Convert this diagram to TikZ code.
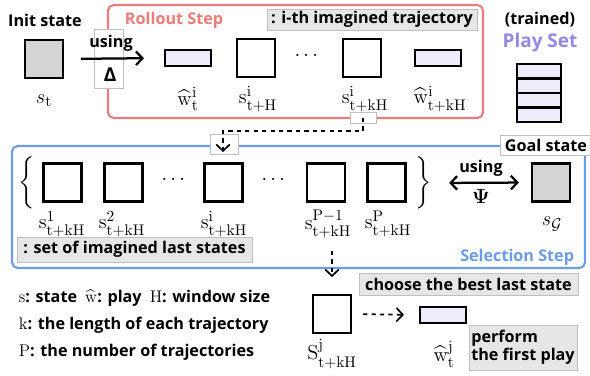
\documentclass[tikz,border=0pt]{standalone}
\usepackage[no-math]{fontspec}
\setmainfont{Open Sans}
\usepackage{amsmath,amssymb,bm}
\usetikzlibrary{arrows.meta,positioning,calc}
\usepackage{xcolor}
\definecolor{rolloutred}{RGB}{236,124,124}
\definecolor{selectblue}{RGB}{108,156,232}
\definecolor{playpurple}{RGB}{150,136,226}
\definecolor{playfill}{RGB}{236,236,250}
\definecolor{notegray}{RGB}{230,230,230}

\begin{document}
\begin{tikzpicture}[x=0.025cm, y=-0.025cm,
    font=\fontsize{11.5}{13}\selectfont\bfseries,
    >={Straight Barb[length=1.6mm, width=3.4mm]},
    state/.style={draw, line width=1.6pt, minimum size=0.95cm, inner sep=0pt},
    play/.style={draw, line width=1.5pt, fill=playfill, minimum width=1.15cm, minimum height=0.4cm, inner sep=0pt},
    note/.style={fill=notegray, draw=black!25, inner sep=0pt},
    patch/.style={fill=white, draw=black!25},
    sym/.style={font=\fontsize{15.5}{18}\selectfont}]
  \useasboundingbox (0,0) rectangle (590,375);
  % frames
  \draw[rolloutred, line width=1.5pt, rounded corners=4pt] (108,5) rectangle (483,118);
  \draw[selectblue, line width=1.5pt, rounded corners=4pt] (12,146) rectangle (585,268);
  \draw[patch] (94,29) rectangle (123,88);
  \draw[patch] (350,112) rectangle (376,123);
  \draw[patch] (210,134) rectangle (238,154);
  % init state
  \node (inittitle) at (45,20) {Init state};
  \node[state, fill=black!17] (init) at (44,59) {};
  \node[sym] (initlbl) at (44,101) {$s_{\mathrm{t}}$};
  % rollout step
  \node[anchor=west, text=rolloutred] (rollname) at (120,20) {Rollout Step};
  \node[note, minimum width=5.25cm, minimum height=0.525cm] (rollnote) at (372,19.5) {: i-th imagined trajectory};
  \node[play] (wt) at (188,58) {};
  \node[state] (stH) at (256,58) {};
  \node[sym] (rolldots) at (308,56) {$\cdots$};
  \node[state] (stkH) at (362,58) {};
  \node[play] (wtkH) at (438,58) {};
  \node[sym] (wtlbl) at (188,99) {$\widehat{\mathrm{w}}^{\mathrm{i}}_{\mathrm{t}}$};
  \node[sym] (stHlbl) at (258,99) {$\mathrm{s}^{\mathrm{i}}_{\mathrm{t+H}}$};
  \node[sym] (stkHlbl) at (365,99) {$\mathrm{s}^{\mathrm{i}}_{\mathrm{t+kH}}$};
  \node[sym] (wtkHlbl) at (440,99) {$\widehat{\mathrm{w}}^{\mathrm{i}}_{\mathrm{t+kH}}$};
  \draw[->, line width=1.6pt, shorten <=0.42cm, shorten >=0.5cm] (init.east) -- (wt.west);
  \node (usedelta) at (111,43) {using};
  \node[font=\fontsize{13.5}{15}\selectfont\bfseries] (delta) at (110,75) {Δ};
  % play set
  \node (trained) at (540,20) {(trained)};
  \node[text=playpurple, font=\fontsize{13.5}{15}\selectfont\bfseries] (playset) at (540,43) {Play Set};
  \foreach \r in {0,...,3}
    \node[play, minimum width=1.1cm, minimum height=0.3625cm] (set\r) at (539,71.25+14.5*\r) {};
  % selection step
  \node[patch, minimum width=2.3cm, minimum height=0.5cm, inner sep=0pt] (goalname) at (546,145) {Goal state};
  \node[anchor=east, text=selectblue] (selname) at (579,257) {Selection Step};
  \node[note, minimum width=5.875cm, minimum height=0.625cm] (selnote) at (134.5,249.5) {: set of imagined last states};
  \node[sym] (lbrace) at (27,183) {$\bigg\{$};
  \node[sym] (rbrace) at (424,183) {$\bigg\}$};
  \node[state] (s1) at (62.5,182.5) {};
  \node[state] (s2) at (123.5,182.5) {};
  \node[sym] (seldots1) at (175,180) {$\cdots$};
  \node[state] (si) at (223.5,182.5) {};
  \node[sym] (seldots2) at (275,180) {$\cdots$};
  \node[state] (sP1) at (326,182.5) {};
  \node[state] (sP) at (386.5,182.5) {};
  \node[state, fill=black!17] (goal) at (551,182.5) {};
  \node[sym] (s1lbl) at (62,224) {$\mathrm{s}^{1}_{\mathrm{t+kH}}$};
  \node[sym] (s2lbl) at (122,224) {$\mathrm{s}^{2}_{\mathrm{t+kH}}$};
  \node[sym] (silbl) at (224,224) {$\mathrm{s}^{\mathrm{i}}_{\mathrm{t+kH}}$};
  \node[sym] (sP1lbl) at (328,224) {$\mathrm{s}^{\mathrm{P-1}}_{\mathrm{t+kH}}$};
  \node[sym] (sPlbl) at (388,224) {$\mathrm{s}^{\mathrm{P}}_{\mathrm{t+kH}}$};
  \node[sym] (goallbl) at (552,224) {$s_{\mathcal{G}}$};
  \draw[<->, line width=1.6pt, shorten <=0.3cm, shorten >=0.3cm] (rbrace.east) -- (goal.west);
  \node (usepsi) at (481,168) {using};
  \node[sym] (psi) at (481,197) {$\bm{\Psi}$};
  % dashed hand-over from rollout to selection
  \coordinate (rollfoot) at (363,118);
  \coordinate (dropin) at (223,152);
  \draw[dashed, ->, line width=1.2pt] (rollfoot) -- ++(0,13) -| (dropin);
  % choice of the best last state
  \coordinate (pickfrom) at (332,251);
  \node[note, minimum width=5.475cm, minimum height=0.55cm] (choosenote) at (468.5,284) {choose the best last state};
  \node[state] (sj) at (332,314) {};
  \node[play] (wj) at (443,315) {};
  \node[sym] (sjlbl) at (332,354) {$\mathrm{S}^{\mathrm{j}}_{\mathrm{t+kH}}$};
  \node[sym] (wjlbl) at (444,354) {$\widehat{\mathrm{w}}^{\mathrm{j}}_{\mathrm{t}}$};
  \node[note, minimum width=2.7cm, minimum height=1.125cm, align=left] (performnote) at (523,347.5) {perform\\the first play};
  \draw[dashed, ->, line width=1.2pt, shorten >=0.42cm] (pickfrom) -- (sj.north);
  \draw[dashed, ->, line width=1.2pt, shorten <=0.275cm, shorten >=0.375cm] (sj.east) -- (wj.west);
  % legend
  \node[anchor=west] (legend1) at (14,298) {$\mathrm{s}$: state\enspace $\widehat{\mathrm{w}}$: play\enspace $\mathrm{H}$: window size};
  \node[anchor=west] (legend2) at (14,325) {$\mathrm{k}$: the length of each trajectory};
  \node[anchor=west] (legend3) at (14,352) {$\mathrm{P}$: the number of trajectories};
\end{tikzpicture}
\end{document}
